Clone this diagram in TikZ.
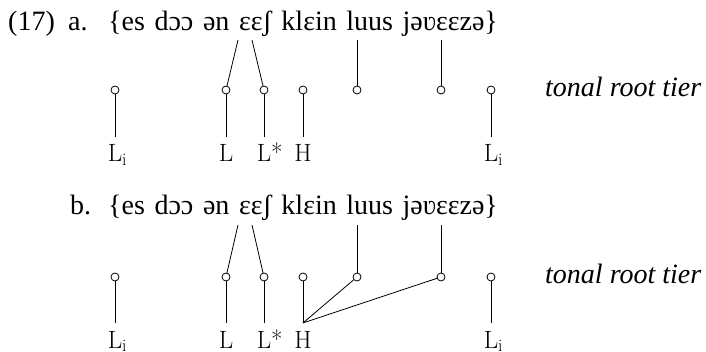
\documentclass[tikz,border=0pt]{standalone}
\usepackage{fontspec}
\setmainfont{Liberation Serif}
\newfontfamily\lmfont{Latin Modern Roman}
\newcommand\wideipa{\spaceskip 9.6pt\relax}
\tikzset{
  tone/.style={circle, draw, minimum size=8pt, inner sep=0pt, outer sep=0pt, line width=0.8pt, fill=white},
  lab/.style={font=\lmfont\fontsize{25}{28}\selectfont, inner xsep=0pt, inner ysep=8pt, outer sep=0pt, anchor=base},
  txt/.style={font={\fontsize{28}{32}\selectfont\wideipa}, inner sep=0pt, anchor=base west},
  tier/.style={font=\itshape\fontsize{28}{32}\selectfont, inner sep=0pt, anchor=base west},
  assoc/.style={line width=0.8pt},
}
\begin{document}
\begin{tikzpicture}[x=1pt,y=-1pt]
\useasboundingbox (0,0) rectangle (706,352);
% ---------- (17a)
\node[txt] (num) at (8,31) {(17)};
\node[txt] (la) at (68,31) {a.};
\node[txt] (sa) at (108,31) {\{es dɔɔ ən ɛɛʃ klɛin luus jəʋɛɛzə\}};
\coordinate (ta1) at (238,40);
\coordinate (ta2) at (252,40);
\coordinate (ta3) at (357,40);
\coordinate (ta4) at (441,40);
\node[tone] (a1) at (115,90) {};
\node[tone] (a2) at (226,90) {};
\node[tone] (a3) at (264,90) {};
\node[tone] (a4) at (303,90) {};
\node[tone] (a5) at (357,90) {};
\node[tone] (a6) at (441,90) {};
\node[tone] (a7) at (491,90) {};
\node[tier] (tiera) at (545,97) {tonal root tier};
\node[lab] (La1) at (115,162) {L\rlap{\textsubscript{i}}};
\node[lab] (La2) at (226,162) {L};
\node[lab] (La3) at (264,162) {L\rlap{\smash{*}}};
\node[lab] (La4) at (303,162) {H};
\node[lab] (La7) at (491,162) {L\rlap{\textsubscript{i}}};
\draw[assoc] (a2) -- (ta1);
\draw[assoc] (a3) -- (ta2);
\draw[assoc] (a5) -- (ta3);
\draw[assoc] (a6) -- (ta4);
\draw[assoc] (a1) -- (La1.north);
\draw[assoc] (a2) -- (La2.north);
\draw[assoc] (a3) -- (La3.north);
\draw[assoc] (a4) -- (La4.north);
\draw[assoc] (a7) -- (La7.north);
% ---------- (17b)
\node[txt] (lb) at (70,215) {b.};
\node[txt] (sb) at (108,215) {\{es dɔɔ ən ɛɛʃ klɛin luus jəʋɛɛzə\}};
\coordinate (tb1) at (238,225);
\coordinate (tb2) at (252,225);
\coordinate (tb3) at (357,225);
\coordinate (tb4) at (441,225);
\node[tone] (b1) at (115,277) {};
\node[tone] (b2) at (226,277) {};
\node[tone] (b3) at (264,277) {};
\node[tone] (b4) at (303,277) {};
\node[tone] (b5) at (357,277) {};
\node[tone] (b6) at (441,277) {};
\node[tone] (b7) at (491,277) {};
\node[tier] (tierb) at (545,284) {tonal root tier};
\node[lab] (Lb1) at (115,348) {L\rlap{\textsubscript{i}}};
\node[lab] (Lb2) at (226,348) {L};
\node[lab] (Lb3) at (264,348) {L\rlap{\smash{*}}};
\node[lab] (Lb4) at (303,348) {H};
\node[lab] (Lb7) at (491,348) {L\rlap{\textsubscript{i}}};
\draw[assoc] (b2) -- (tb1);
\draw[assoc] (b3) -- (tb2);
\draw[assoc] (b5) -- (tb3);
\draw[assoc] (b6) -- (tb4);
\draw[assoc] (b1) -- (Lb1.north);
\draw[assoc] (b2) -- (Lb2.north);
\draw[assoc] (b3) -- (Lb3.north);
\draw[assoc] (b4) -- (Lb4.north);
\draw[assoc] (b7) -- (Lb7.north);
\draw[assoc] (Lb4.north) -- (b5);
\draw[assoc] (Lb4.north) -- (b6);
\end{tikzpicture}
\end{document}
